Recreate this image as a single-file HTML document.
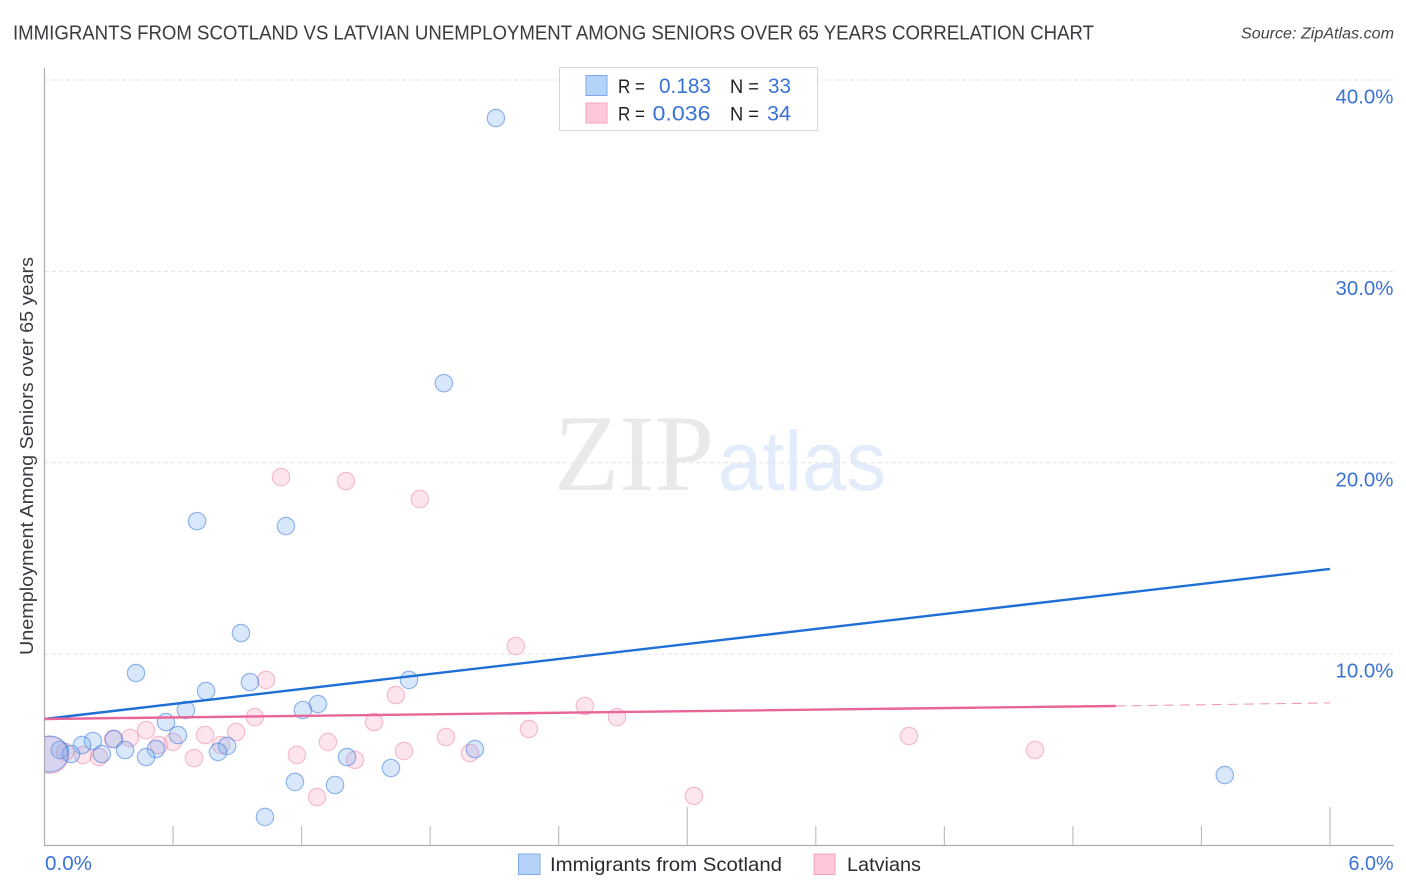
<!DOCTYPE html>
<html lang="en">
<head>
<meta charset="utf-8">
<title>Immigrants from Scotland vs Latvian Unemployment Among Seniors Over 65 Years Correlation Chart</title>
<style>
html,body{margin:0;padding:0;background:#fff;width:1406px;height:892px;overflow:hidden}
svg{display:block;font-family:"Liberation Sans",sans-serif}
</style>
</head>
<body>
<svg id="chart" xmlns="http://www.w3.org/2000/svg" width="1406" height="892" viewBox="0 0 1406 892">
  <g>
    <text x="554" y="490" font-family="'Liberation Serif',serif" font-size="109" fill="#e9e9e9" textLength="160" lengthAdjust="spacingAndGlyphs">ZIP</text>
    <text x="718" y="490" font-size="84" fill="#e3ecfa" textLength="168" lengthAdjust="spacingAndGlyphs">atlas</text>
  </g>
  <g id="grid"></g>
  <g id="axes"></g>
  <g id="pinkDots"></g>
  <g id="blueDots"></g>
  <g id="trends"></g>
  <g id="labels"></g>

  <text x="13" y="39.5" font-size="20" fill="#3a3a40" textLength="1081" lengthAdjust="spacingAndGlyphs">IMMIGRANTS FROM SCOTLAND VS LATVIAN UNEMPLOYMENT AMONG SENIORS OVER 65 YEARS CORRELATION CHART</text>
  <text x="1241" y="38.5" font-size="15.5" font-style="italic" fill="#444" textLength="153" lengthAdjust="spacingAndGlyphs">Source: ZipAtlas.com</text>
  <text transform="translate(33,655) rotate(-90)" font-size="18" fill="#3a3a40" textLength="398" lengthAdjust="spacingAndGlyphs">Unemployment Among Seniors over 65 years</text>

  <g>
    <rect x="559.5" y="67.5" width="258" height="63" fill="#fff" fill-opacity="0.9" stroke="#d8d8d8" stroke-width="1"/>
    <rect x="586" y="75.5" width="21" height="20" fill="#b5d2f8" stroke="#7fabe8" stroke-width="1"/>
    <rect x="586" y="103" width="21" height="20" fill="#fdc8da" stroke="#f3a3bf" stroke-width="1"/>
    <text x="618" y="93" font-size="19" fill="#222" textLength="27" lengthAdjust="spacingAndGlyphs">R =</text>
    <text x="659" y="93" font-size="21" fill="#3a72d4" textLength="52" lengthAdjust="spacingAndGlyphs">0.183</text>
    <text x="730" y="93" font-size="19" fill="#222" textLength="29" lengthAdjust="spacingAndGlyphs">N =</text>
    <text x="768" y="93" font-size="21" fill="#3a72d4" textLength="23" lengthAdjust="spacingAndGlyphs">33</text>
    <text x="618" y="120.5" font-size="19" fill="#222" textLength="27" lengthAdjust="spacingAndGlyphs">R =</text>
    <text x="652.5" y="120.5" font-size="21" fill="#3a72d4" textLength="58" lengthAdjust="spacingAndGlyphs">0.036</text>
    <text x="730" y="120.5" font-size="19" fill="#222" textLength="29" lengthAdjust="spacingAndGlyphs">N =</text>
    <text x="767" y="120.5" font-size="21" fill="#3a72d4" textLength="24" lengthAdjust="spacingAndGlyphs">34</text>
  </g>

  <g>
    <g>
      <rect x="518.5" y="854" width="21.5" height="20.5" fill="#b5d2f8" stroke="#7fabe8" stroke-width="1"/>
      <text x="550" y="871" font-size="19.5" fill="#2a2a30" textLength="232" lengthAdjust="spacingAndGlyphs">Immigrants from Scotland</text>
    </g>
    <g>
      <rect x="814" y="854" width="21" height="20.5" fill="#fdc8da" stroke="#f3a3bf" stroke-width="1"/>
      <text x="847" y="871" font-size="19.5" fill="#2a2a30" textLength="74" lengthAdjust="spacingAndGlyphs">Latvians</text>
    </g>
  </g>
</svg>
<script>
const xTickValues = [0.6, 1.2, 1.8, 2.4, 3.0, 3.6, 4.2, 4.8, 5.4, 6.0];
const xMajorTicks = [3.0, 6.0];
const xTickLabels = ["0.0%", "6.0%"];
const yTickValues = [10, 20, 30, 40];
const yTickLabels = ["10.0%", "20.0%", "30.0%", "40.0%"];

const scotlandX = [0.427,2.107,1.864,0.712,1.127,0.917,0.959,0.754,1.701,1.276,1.206,0.660,0.567,0.623,0.324,0.226,0.175,0.376,0.520,0.474,0.268,0.852,0.810,0.072,0.124,1.412,1.617,2.009,1.169,1.356,1.029,5.509,0.026];
const scotlandY = [9.01,38.01,24.16,16.95,16.69,11.10,8.54,8.07,8.65,7.39,7.08,7.08,6.45,5.77,5.56,5.46,5.25,4.99,5.04,4.62,4.78,5.20,4.89,4.99,4.78,4.62,4.05,5.04,3.32,3.16,1.49,3.68,4.78];
const scotlandLarge = [0,0,0,0,0,0,0,0,0,0,0,0,0,0,0,0,0,0,0,0,0,0,0,0,0,0,0,0,0,0,0,0,1];

const latviansX = [1.034,0.982,1.640,1.538,0.894,0.474,0.399,0.320,0.749,0.534,0.600,0.824,0.698,1.323,1.178,1.449,1.272,1.678,1.874,1.986,0.254,0.180,0.096,0.026,1.104,1.407,1.752,2.200,2.522,2.672,2.261,4.035,4.623,3.031];
const latviansY = [8.65,6.71,7.86,6.45,5.93,6.03,5.62,5.56,5.77,5.25,5.41,5.25,4.57,5.41,4.73,4.47,2.53,4.94,5.67,4.83,4.62,4.73,4.89,4.73,19.25,19.04,18.10,10.42,7.29,6.71,6.09,5.72,4.99,2.59];
const latviansLarge = [0,0,0,0,0,0,0,0,0,0,0,0,0,0,0,0,0,0,0,0,0,0,0,1,0,0,0,0,0,0,0,0,0,0];

const scotlandTrendX = [0, 6];
const scotlandTrendY = [6.61, 14.45];
const latviansTrendX = [0, 5];
const latviansTrendY = [6.61, 7.29];
const latviansDashX = [5, 6];
const latviansDashY = [7.29, 7.45];

const NS = 'http://www.w3.org/2000/svg';
function xScale(v) { return 44.5 + v * (1285.5 / 6); }
function yScale(v) { return 845.5 - v * (765.5 / 40); }
function make(parent, tag, attrs, text) {
  const el = document.createElementNS(NS, tag);
  for (const k in attrs) el.setAttribute(k, attrs[k]);
  if (text !== undefined) el.textContent = text;
  parent.appendChild(el);
  return el;
}

const grid = document.getElementById('grid');
const axes = document.getElementById('axes');
const labels = document.getElementById('labels');

yTickValues.forEach(function (v, i) {
  const line = make(grid, 'line', {x1: 45, x2: 1394, y1: yScale(v), y2: yScale(v), stroke: '#e2e2e2', 'stroke-width': 1, 'stroke-dasharray': '4 3'});
  
  
  const t = make(labels, 'text', {x: 1393.5, y: yScale(v) + 23.5, 'text-anchor': 'end', 'font-size': 20, fill: '#3a72d4', textLength: 58, lengthAdjust: 'spacingAndGlyphs'}, yTickLabels[i]);
  
  
});

const yAxis = make(axes, 'line', {x1: 44.5, x2: 44.5, y1: 68, y2: 846, stroke: '#adadad', 'stroke-width': 1.2});


const xAxis = make(axes, 'line', {x1: 44, x2: 1394, y1: 845.5, y2: 845.5, stroke: '#adadad', 'stroke-width': 1.2});



xTickValues.forEach(function (v) {
  const top = xMajorTicks.indexOf(v) >= 0 ? 807 : 826;
  const tick = make(axes, 'line', {x1: xScale(v), x2: xScale(v), y1: top, y2: 845.5, stroke: '#bababa', 'stroke-width': 1.1});
  
  
});

const xLabelLeft = make(labels, 'text', {x: 45, y: 870, 'font-size': 20, fill: '#3a72d4', textLength: 47, lengthAdjust: 'spacingAndGlyphs'}, xTickLabels[0]);


const xLabelRight = make(labels, 'text', {x: 1393.5, y: 870, 'text-anchor': 'end', 'font-size': 20, fill: '#3a72d4', textLength: 45, lengthAdjust: 'spacingAndGlyphs'}, xTickLabels[1]);



const clipDefs = make(document.getElementById('chart'), 'defs', {});
const clip = make(clipDefs, 'clipPath', {id: 'plotClip'});
make(clip, 'rect', {x: 45, y: 60, width: 1350, height: 786});

const pinkGroup = document.getElementById('pinkDots');
pinkGroup.setAttribute('clip-path', 'url(#plotClip)');
latviansX.forEach(function (v, i) {
  const dot = make(pinkGroup, 'circle', {cx: xScale(v), cy: yScale(latviansY[i]), r: latviansLarge[i] ? 18.5 : 8.7, fill: 'rgba(250,170,195,0.3)', stroke: 'rgba(236,120,160,0.45)', 'stroke-width': 1.2});
  
  
});

const blueGroup = document.getElementById('blueDots');
blueGroup.setAttribute('clip-path', 'url(#plotClip)');
scotlandX.forEach(function (v, i) {
  const dot = make(blueGroup, 'circle', {cx: xScale(v), cy: yScale(scotlandY[i]), r: scotlandLarge[i] ? 18 : 8.7, fill: 'rgba(125,175,240,0.3)', stroke: 'rgba(50,115,220,0.5)', 'stroke-width': 1.2});
  
  
});

const trends = document.getElementById('trends');
const blueTrend = make(trends, 'line', {x1: xScale(scotlandTrendX[0]), y1: yScale(scotlandTrendY[0]), x2: xScale(scotlandTrendX[1]), y2: yScale(scotlandTrendY[1]), stroke: '#1f6fd6', 'stroke-width': 2.4});


const pinkTrend = make(trends, 'line', {x1: xScale(latviansTrendX[0]), y1: yScale(latviansTrendY[0]), x2: xScale(latviansTrendX[1]), y2: yScale(latviansTrendY[1]), stroke: '#e8659a', 'stroke-width': 2.4});


const pinkDash = make(trends, 'line', {x1: xScale(latviansDashX[0]), y1: yScale(latviansDashY[0]), x2: xScale(latviansDashX[1]), y2: yScale(latviansDashY[1]), stroke: '#e8659a', 'stroke-width': 1, 'stroke-dasharray': '10 6', 'stroke-opacity': 0.7});


</script>
</body>
</html>
